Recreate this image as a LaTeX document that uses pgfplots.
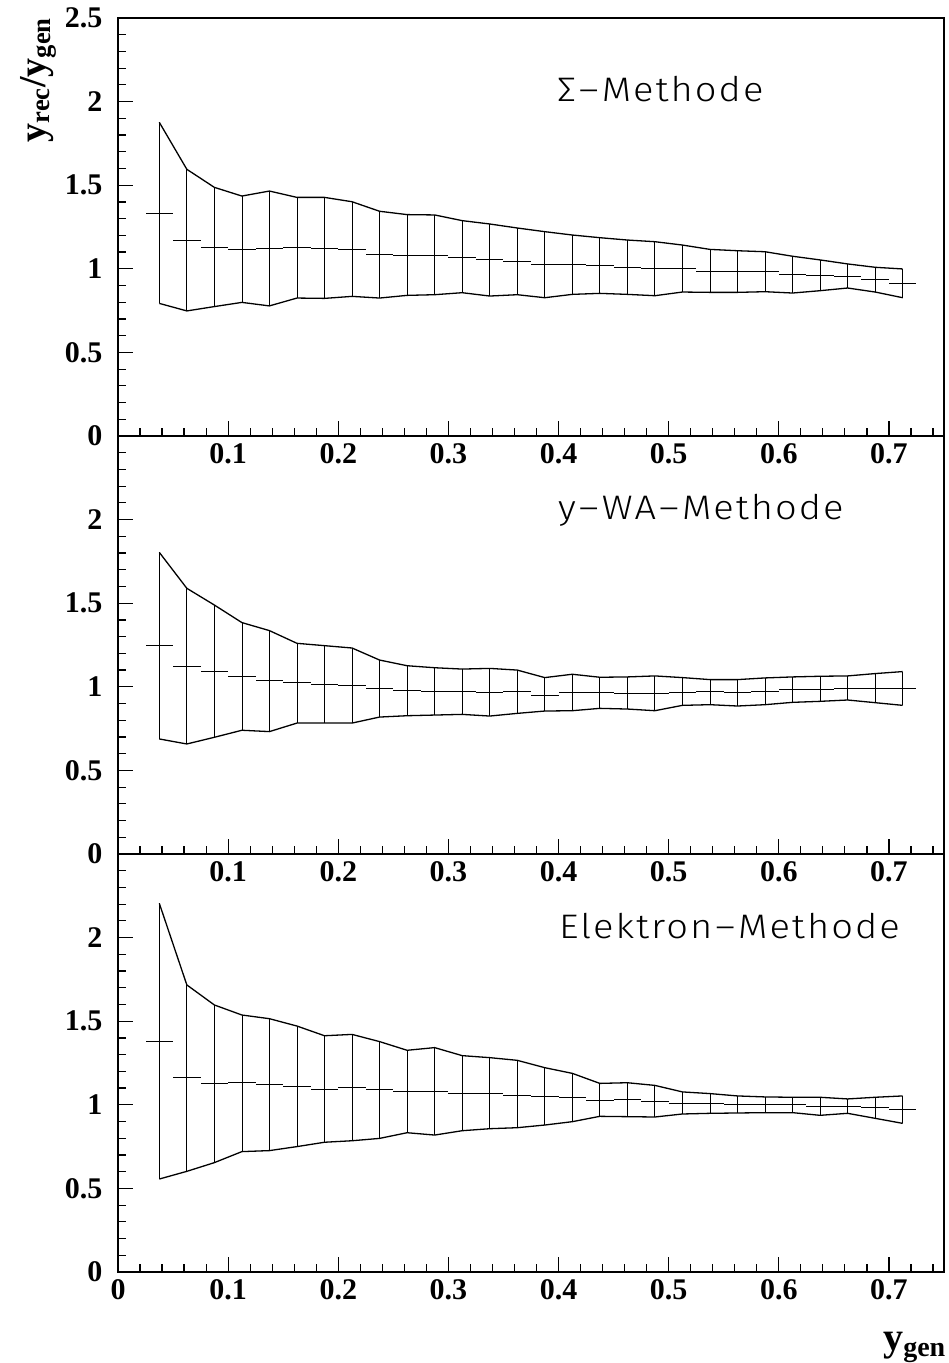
\documentclass[border=0pt]{standalone}
\usepackage{fontspec}
\setmainfont{Liberation Serif}
\newfontfamily\thinfont{Fira Sans Light}[LetterSpace=6, FakeStretch=1.12]
\usepackage{pgfplots}
\usepackage{pgfplotstable}
\pgfplotsset{compat=1.18}

\pgfplotstableread{
x c lo hi
0.0375 1.332 0.793 1.876
0.0625 1.168 0.748 1.595
0.0875 1.130 0.774 1.487
0.1125 1.114 0.799 1.435
0.1375 1.120 0.778 1.465
0.1625 1.126 0.825 1.427
0.1875 1.122 0.823 1.427
0.2125 1.116 0.835 1.401
0.2375 1.085 0.825 1.344
0.2625 1.081 0.841 1.324
0.2875 1.081 0.845 1.322
0.3125 1.071 0.857 1.288
0.3375 1.055 0.837 1.268
0.3625 1.047 0.845 1.244
0.3875 1.025 0.827 1.222
0.4125 1.025 0.847 1.202
0.4375 1.021 0.853 1.186
0.4625 1.011 0.847 1.172
0.4875 1.001 0.839 1.162
0.5125 1.001 0.861 1.142
0.5375 0.987 0.859 1.116
0.5625 0.983 0.859 1.108
0.5875 0.983 0.863 1.102
0.6125 0.965 0.855 1.075
0.6375 0.959 0.869 1.053
0.6625 0.955 0.885 1.029
0.6875 0.935 0.861 1.009
0.7125 0.913 0.827 0.999
}\tabSigma

\pgfplotstableread{
x c lo hi
0.0375 1.248 0.688 1.804
0.0625 1.120 0.658 1.589
0.0875 1.094 0.698 1.489
0.1125 1.063 0.740 1.384
0.1375 1.037 0.732 1.336
0.1625 1.025 0.783 1.260
0.1875 1.015 0.783 1.246
0.2125 1.007 0.783 1.232
0.2375 0.991 0.819 1.160
0.2625 0.977 0.827 1.126
0.2875 0.975 0.831 1.114
0.3125 0.971 0.835 1.106
0.3375 0.969 0.825 1.110
0.3625 0.971 0.841 1.100
0.3875 0.949 0.855 1.055
0.4125 0.965 0.857 1.075
0.4375 0.965 0.871 1.057
0.4625 0.963 0.867 1.059
0.4875 0.961 0.857 1.065
0.5125 0.969 0.889 1.055
0.5375 0.971 0.893 1.043
0.5625 0.965 0.885 1.043
0.5875 0.971 0.893 1.053
0.6125 0.983 0.907 1.059
0.6375 0.985 0.913 1.063
0.6625 0.993 0.921 1.065
0.6875 0.989 0.905 1.079
0.7125 0.989 0.889 1.091
}\tabWA

\pgfplotstableread{
x c lo hi
0.0375 1.380 0.556 2.205
0.0625 1.162 0.602 1.717
0.0875 1.126 0.654 1.597
0.1125 1.132 0.720 1.537
0.1375 1.122 0.726 1.515
0.1625 1.110 0.750 1.471
0.1875 1.094 0.776 1.413
0.2125 1.104 0.785 1.421
0.2375 1.093 0.799 1.378
0.2625 1.081 0.833 1.326
0.2875 1.081 0.819 1.342
0.3125 1.069 0.845 1.294
0.3375 1.069 0.857 1.282
0.3625 1.059 0.863 1.266
0.3875 1.049 0.879 1.222
0.4125 1.043 0.899 1.188
0.4375 1.025 0.931 1.128
0.4625 1.033 0.929 1.132
0.4875 1.021 0.927 1.116
0.5125 1.011 0.945 1.077
0.5375 1.007 0.949 1.067
0.5625 1.003 0.951 1.053
0.5875 1.001 0.953 1.047
0.6125 1.001 0.953 1.045
0.6375 0.993 0.937 1.045
0.6625 0.991 0.949 1.035
0.6875 0.983 0.919 1.045
0.7125 0.971 0.889 1.053
}\tabEl

\pgfplotsset{
  panel/.style={
    scale only axis, width=826pt, height=418pt,
    anchor=south west,
    xmin=0, xmax=0.75, ymin=0, ymax=2.5,
    axis line style={line width=1.5pt},
    tick style={line width=1.2pt, black},
    major tick length=15pt, minor tick length=8pt,
    xtick pos=bottom, ytick pos=left, tick align=inside,
    xtick={0,0.1,0.2,0.3,0.4,0.5,0.6,0.7},
    minor xtick={0.02,0.04,0.06,0.08,0.12,0.14,0.16,0.18,0.22,0.24,0.26,0.28,0.32,0.34,0.36,0.38,0.42,0.44,0.46,0.48,0.52,0.54,0.56,0.58,0.62,0.64,0.66,0.68,0.72,0.74},
    ytick={0,0.5,1,1.5,2,2.5},
    minor ytick={0.1,0.2,0.3,0.4,0.6,0.7,0.8,0.9,1.1,1.2,1.3,1.4,1.6,1.7,1.8,1.9,2.1,2.2,2.3,2.4},
    ticklabel style={font=\fontsize{30}{36}\selectfont\bfseries},
    /pgf/number format/assume math mode=true,
    xticklabel style={yshift=-4pt},
    yticklabel style={xshift=-12pt},
  },
  band/.style={black, line width=1.3pt, mark=none},
  cross/.style={draw=none, mark=none,
    error bars/.cd, x dir=both, x fixed=0.0125, y dir=both, y explicit,
    error mark=none, error bar style={draw=black, line width=0.8pt}},
}

\newcommand{\dsh}{\hspace{3pt}–\hspace{3pt}}

\begin{document}
\begin{tikzpicture}
\useasboundingbox (0,0) rectangle (948pt,1363pt);

% top panel
\begin{axis}[panel, at={(118pt,927pt)},
  xticklabels={,0.1,0.2,0.3,0.4,0.5,0.6,0.7},
  yticklabels={0,0.5,1,1.5,2,2.5}]
\addplot[band] table[x=x,y=hi] {\tabSigma};
\addplot[band] table[x=x,y=lo] {\tabSigma};
\addplot[cross] table[x=x,y=c,
  y error plus expr=\thisrow{hi}-\thisrow{c},
  y error minus expr=\thisrow{c}-\thisrow{lo}] {\tabSigma};
\end{axis}

% middle panel
\begin{axis}[panel, at={(118pt,509pt)},
  xticklabels={,0.1,0.2,0.3,0.4,0.5,0.6,0.7},
  yticklabels={0,0.5,1,1.5,2,}]
\addplot[band] table[x=x,y=hi] {\tabWA};
\addplot[band] table[x=x,y=lo] {\tabWA};
\addplot[cross] table[x=x,y=c,
  y error plus expr=\thisrow{hi}-\thisrow{c},
  y error minus expr=\thisrow{c}-\thisrow{lo}] {\tabWA};
\end{axis}

% bottom panel
\begin{axis}[panel, at={(118pt,91pt)},
  xticklabels={0,0.1,0.2,0.3,0.4,0.5,0.6,0.7},
  yticklabels={0,0.5,1,1.5,2,}]
\addplot[band] table[x=x,y=hi] {\tabEl};
\addplot[band] table[x=x,y=lo] {\tabEl};
\addplot[cross] table[x=x,y=c,
  y error plus expr=\thisrow{hi}-\thisrow{c},
  y error minus expr=\thisrow{c}-\thisrow{lo}] {\tabEl};
\end{axis}

\node[rotate=90, anchor=center, inner sep=0pt, font=\fontsize{38}{44}\selectfont\bfseries]
  at (38pt,1283pt) {y\textsubscript{rec}/y\textsubscript{gen}};
\node[anchor=south east, inner sep=0pt, font=\fontsize{40}{46}\selectfont\bfseries]
  at (946pt,0pt) {y\textsubscript{gen}};

\node[anchor=base west, inner sep=0pt, font={\thinfont\fontsize{34}{40}\selectfont}]
  at (557pt,1261pt) {Σ\dsh Methode};
\node[anchor=base west, inner sep=0pt, font={\thinfont\fontsize{34}{40}\selectfont}]
  at (558pt,843pt) {y\dsh WA\dsh Methode};
\node[anchor=base west, inner sep=0pt, font={\thinfont\fontsize{34}{40}\selectfont}]
  at (559pt,424pt) {Elektron\dsh Methode};
\end{tikzpicture}
\end{document}
